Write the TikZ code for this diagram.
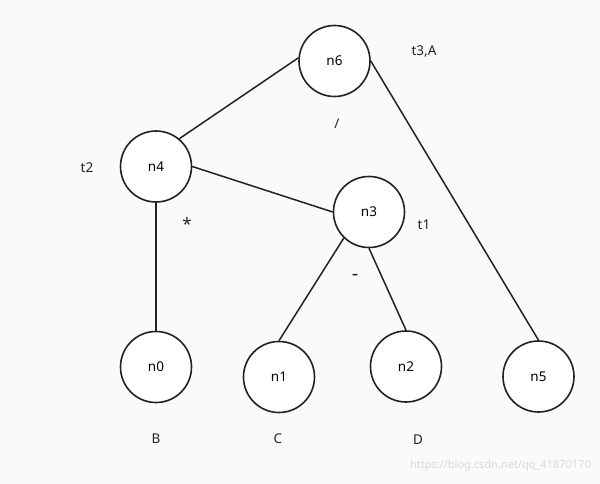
\documentclass[tikz,border=0pt]{standalone}
\usepackage{fontspec}
\setmainfont{Noto Sans}
\usepackage{xcolor}
\usetikzlibrary{positioning}
\definecolor{pagebg}{HTML}{FAFAFA}
\definecolor{inkdark}{HTML}{222222}
\definecolor{wmgray}{HTML}{D9D9D9}
\tikzset{
  treenode/.style={
    circle, draw=inkdark, line width=1.6pt, fill=white,
    minimum size=71pt, inner sep=0pt, font=\fontsize{13.5}{15}\selectfont
  },
  treeedge/.style={line width=1.5pt, color=inkdark},
  tag/.style={font=\fontsize{13.5}{15}\selectfont, text=inkdark, inner sep=0pt},
}

\begin{document}
\begin{tikzpicture}[x=1pt, y=-1pt]
  \fill[pagebg] (0,0) rectangle (600,484);
  \useasboundingbox (0,0) rectangle (600,484);
  % tree
  \node[treenode] (n6) at (334.5,61) {n6};
  \node[treenode] (n4) at (156,166.5) {n4};
  \node[treenode] (n3) at (369,212) {n3};
  \node[treenode] (n0) at (156,367) {n0};
  \node[treenode] (n1) at (279,377) {n1};
  \node[treenode] (n2) at (406,366.5) {n2};
  \node[treenode] (n5) at (538.5,376.5) {n5};
  \foreach \a/\b in {n4.50/n6.175, n6.east/n5.north, n4.east/n3.west,
                     n4.south/n0.north, n3.-134/n1.north, n3.south/n2.north}
    \draw[treeedge] (\a) -- (\b);
  % annotations
  \node[tag] (t3A) at (424,51) {t3,A};
  \node[tag] (opdiv) at (337,124) {/};
  \node[tag] (t2) at (87,168) {t2};
  \node[tag, font=\fontsize{17}{18}\selectfont] (opmul) at (187,224) {*};
  \node[tag] (t1) at (424,225) {t1};
  \node[tag, font=\bfseries\fontsize{20}{22}\selectfont] (opsub) at (355,277) {-};
  \node[tag] (lblB) at (156,439) {B};
  \node[tag] (lblC) at (278,439) {C};
  \node[tag] (lblD) at (418,440) {D};
  \node[tag, anchor=east, text=wmgray, font=\fontsize{11}{12}\selectfont] (wm) at (591,466) {https://blog.csdn.net/qq\_41870170};
\end{tikzpicture}
\end{document}
